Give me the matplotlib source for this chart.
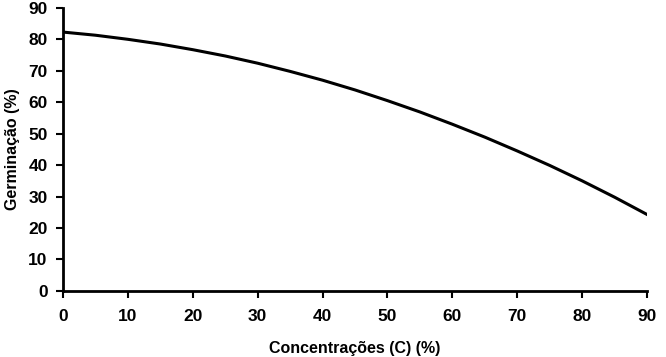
import matplotlib
matplotlib.use('Agg')
import matplotlib.pyplot as plt

# Concentration (%) and germination (%)
concentracao = [0, 5, 10, 15, 20, 25, 30, 35, 40, 45, 50, 55, 60, 65, 70, 75, 80, 85, 90]
germinacao = [82.3, 81.3, 80.0, 78.5, 76.7, 74.7, 72.4, 69.8, 67.0, 63.9, 60.5,
              56.9, 53.0, 48.9, 44.5, 39.9, 35.0, 29.8, 24.3]

x_ticks = [0, 10, 20, 30, 40, 50, 60, 70, 80, 90]
y_ticks = [0, 10, 20, 30, 40, 50, 60, 70, 80, 90]

plt.rcParams['font.family'] = ['Liberation Sans', 'DejaVu Sans']
plt.rcParams['font.weight'] = 'bold'

fig = plt.figure(figsize=(6.66, 3.57), dpi=100)
ax = fig.add_axes([0.0946, 0.185, 0.877, 0.793])

ax.plot(concentracao, germinacao, color='black', linewidth=2.2)

ax.set_xlim(0, 90)
ax.set_ylim(0, 90)
ax.set_xticks(x_ticks)
ax.set_yticks(y_ticks)
ax.tick_params(direction='out', length=5, width=1.5, labelsize=12.5)
ax.tick_params(axis='x', pad=8)
ax.tick_params(axis='y', pad=6)
for lab in ax.get_xticklabels() + ax.get_yticklabels():
    lab.set_fontweight('bold')

ax.spines['top'].set_visible(False)
ax.spines['right'].set_visible(False)
ax.spines['left'].set_linewidth(2)
ax.spines['bottom'].set_linewidth(2)

ax.set_xlabel('Concentrações (C) (%)', fontsize=11.5, fontweight='bold', labelpad=12)
ax.set_ylabel('Germinação (%)', fontsize=11.5, fontweight='bold', labelpad=6)

fig.savefig('out.png', dpi=100)
